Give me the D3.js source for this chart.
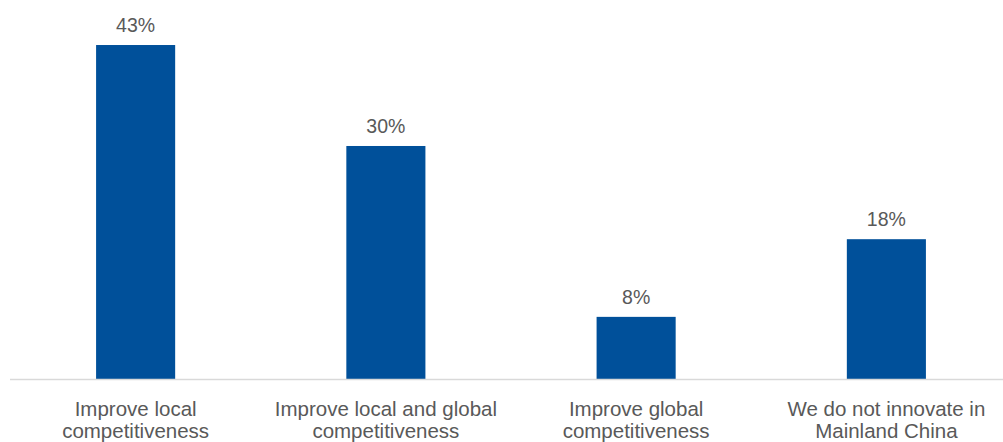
<!DOCTYPE html>
<html>
<head>
<meta charset="utf-8">
<script src="https://cdn.jsdelivr.net/npm/d3@7"></script>
<style>
  html, body { margin: 0; padding: 0; background: #ffffff; }
  svg { display: block; }
  text { font-family: "Liberation Sans", Arial, sans-serif; fill: #595959; }
</style>
</head>
<body>
<svg id="chart" width="1003" height="442"></svg>
<script>
// Survey answers: purpose of innovation in Mainland China
const categories = [
  "Improve local\ncompetitiveness",
  "Improve local and global\ncompetitiveness",
  "Improve global\ncompetitiveness",
  "We do not innovate in\nMainland China"
];
const shares = [43, 30, 8, 18];
const valueLabels = ["43%", "30%", "8%", "18%"];

const width = 1003, height = 442;
const baseY = 379;

const svg = d3.select("#chart");

const x = d3.scaleBand()
  .domain(categories)
  .range([10.5, 1011.5])
  .paddingInner(0.684)
  .paddingOuter(0.342);

const y = d3.scaleLinear()
  .domain([0, 45])
  .range([baseY, baseY - 45 * 7.767]);

// Bars
svg.append("g")
  .selectAll("rect")
  .data(categories)
  .join("rect")
  .attr("x", d => x(d))
  .attr("width", x.bandwidth())
  .attr("y", (d, i) => y(shares[i]))
  .attr("height", (d, i) => y(0) - y(shares[i]))
  .attr("fill", "#00509a");

// Baseline
svg.append("line")
  .attr("x1", 10).attr("x2", 1003)
  .attr("y1", baseY + 0.5).attr("y2", baseY + 0.5)
  .attr("stroke", "#d9d9d9")
  .attr("stroke-width", 1.5);

// Value labels above bars
svg.append("g")
  .selectAll("text")
  .data(categories)
  .join("text")
  .attr("x", d => x(d) + x.bandwidth() / 2)
  .attr("y", (d, i) => y(shares[i]) - 13)
  .attr("text-anchor", "middle")
  .attr("font-size", 19.5)
  .text((d, i) => valueLabels[i]);

// Category labels, two lines each
const catG = svg.append("g")
  .selectAll("text")
  .data(categories)
  .join("text")
  .attr("text-anchor", "middle")
  .attr("font-size", 20.5)
  .attr("transform", d => `translate(${x(d) + x.bandwidth() / 2},416)`);

catG.selectAll("tspan")
  .data(d => d.split("\n"))
  .join("tspan")
  .attr("x", 0)
  .attr("y", (d, i) => i * 22)
  .text(d => d);
</script>
</body>
</html>
